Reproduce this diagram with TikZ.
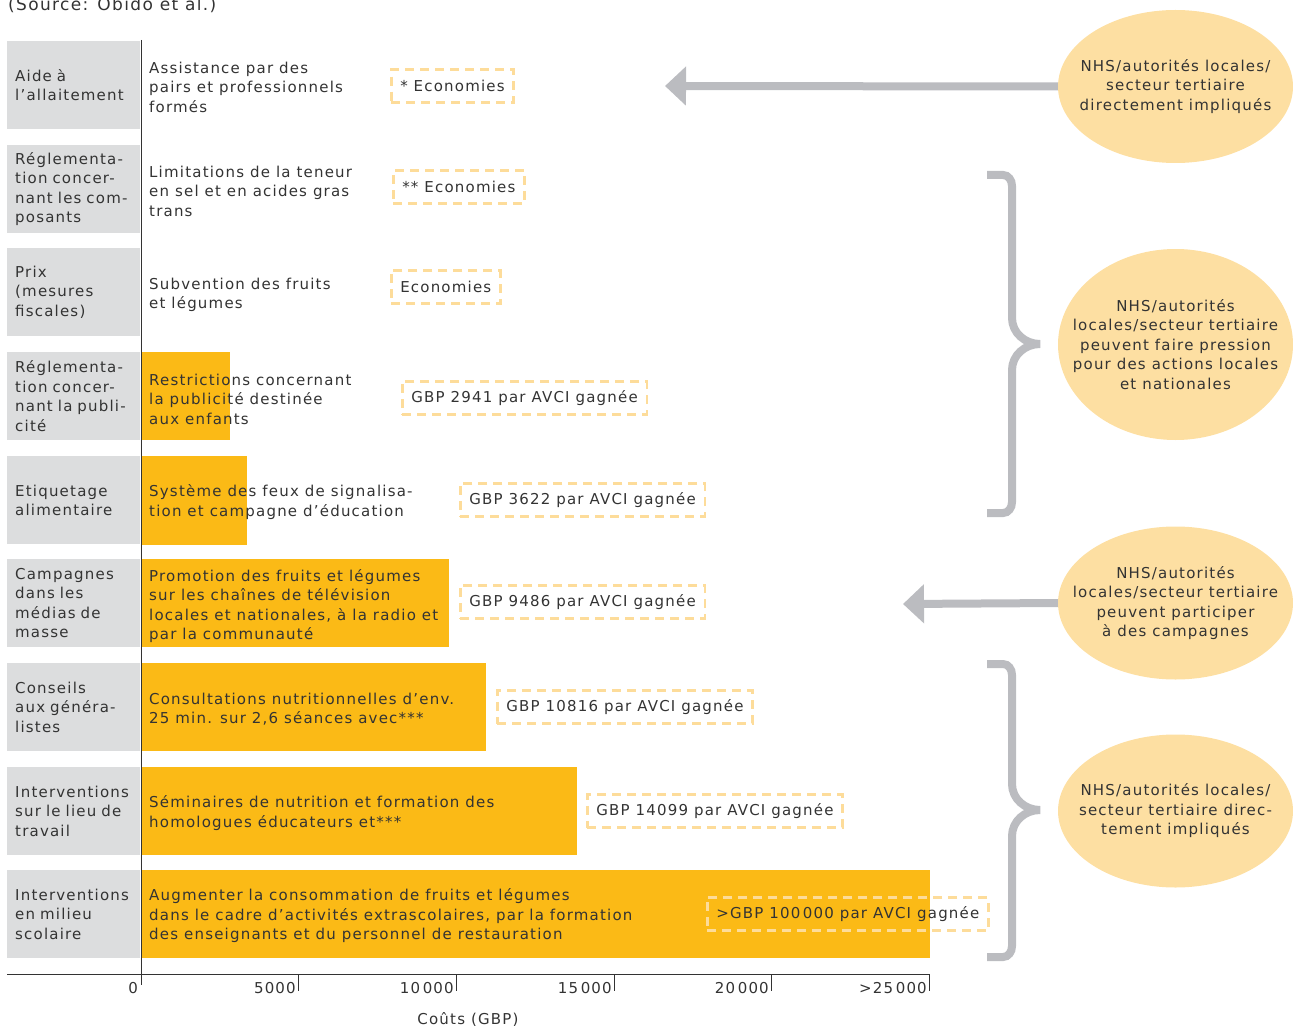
\documentclass[tikz,border=0pt]{standalone}
\usepackage{fontspec}
\setmainfont{DejaVu Sans}[LetterSpace=8]
\usetikzlibrary{arrows.meta,shapes.geometric}
\definecolor{boxgray}{HTML}{DCDDDE}
\definecolor{barorange}{HTML}{FBBA16}
\definecolor{dashorange}{HTML}{FDDC9A}
\definecolor{ellorange}{HTML}{FDDFA2}
\definecolor{arrowgray}{HTML}{BBBCC0}
\definecolor{txt}{HTML}{333333}
\tikzset{
    base/.style={font=\fontsize{15}{19.5}\selectfont, text=txt, inner sep=0pt},
    catbox/.style={base, fill=boxgray, anchor=north west, minimum width=133pt, minimum height=88pt, text width=117pt, inner xsep=8pt, align=left},
    desc/.style={base, anchor=west, align=left},
    saving/.style={base, draw=dashorange, line width=2.5pt, dash pattern=on 9pt off 6pt, anchor=west, inner xsep=9pt, minimum height=33pt},
    actor/.style={ellipse, fill=ellorange, minimum width=235pt, minimum height=153pt, inner sep=0pt},
    actortext/.style={base, align=center},
    bigarrow/.style={draw=arrowgray, line width=8pt, -{Triangle[width=38pt,length=21pt]}, arrowgray},
    brace/.style={draw=arrowgray, line width=8pt},
    axis/.style={draw=txt, line width=1pt}
}
\begin{document}
\begin{tikzpicture}[x=1pt,y=-1pt]
    \useasboundingbox (0,0) rectangle (1293,1027);
    \node[base, font=\fontsize{17}{20}\selectfont, anchor=base west] (source) at (8,11) {(Source: Obido et al.)};

    % categories
    \node[catbox] (c1) at (7,41) {Aide à\\l’allaitement};
    \node[catbox] (c2) at (7,145) {Réglementa-\\tion concer-\\nant les com-\\posants};
    \node[catbox] (c3) at (7,248) {Prix\\(mesures\\fiscales)};
    \node[catbox] (c4) at (7,352) {Réglementa-\\tion concer-\\nant la publi-\\cité};
    \node[catbox] (c5) at (7,456) {Etiquetage\\alimentaire};
    \node[catbox] (c6) at (7,559) {Campagnes\\dans les\\médias de\\masse};
    \node[catbox] (c7) at (7,663) {Conseils\\aux généra-\\listes};
    \node[catbox] (c8) at (7,767) {Interventions\\sur le lieu de\\travail};
    \node[catbox] (c9) at (7,870) {Interventions\\en milieu\\scolaire};

    % cost bars
    \fill[barorange] (141,352) rectangle (230,440);
    \fill[barorange] (141,456) rectangle (247,545);
    \fill[barorange] (141,559) rectangle (449,647);
    \fill[barorange] (141,663) rectangle (486,751);
    \fill[barorange] (141,767) rectangle (577,855);
    \fill[barorange] (141,870) rectangle (930,958);

    % interventions
    \node[desc] (d1) at (149,87) {Assistance par des\\pairs et professionnels\\formés};
    \node[desc] (d2) at (149,191) {Limitations de la teneur\\en sel et en acides gras\\trans};
    \node[desc] (d3) at (149,295) {Subvention des fruits\\et légumes};
    \node[desc] (d4) at (149,399) {Restrictions concernant\\la publicité destinée\\aux enfants};
    \node[desc] (d5) at (149,502) {Système des feux de signalisa-\\tion et campagne d’éducation};
    \node[desc] (d6) at (149,606) {Promotion des fruits et légumes\\sur les chaînes de télévision\\locales et nationales, à la radio et\\par la communauté};
    \node[desc] (d7) at (149,709) {Consultations nutritionnelles d’env.\\25 min. sur 2,6 séances avec***};
    \node[desc] (d8) at (149,813) {Séminaires de nutrition et formation des\\homologues éducateurs et***};
    \node[desc] (d9) at (149,916) {Augmenter la consommation de fruits et légumes\\dans le cadre d’activités extrascolaires, par la formation\\des enseignants et du personnel de restauration};

    % savings
    \node[saving] (s1) at (390,86) {* Economies};
    \node[saving] (s2) at (392,187) {** Economies};
    \node[saving] (s3) at (390,287) {Economies};
    \node[saving] (s4) at (401,398) {GBP 2941 par AVCI gagnée};
    \node[saving] (s5) at (459,500) {GBP 3622 par AVCI gagnée};
    \node[saving] (s6) at (459,602) {GBP 9486 par AVCI gagnée};
    \node[saving] (s7) at (496,707) {GBP 10816 par AVCI gagnée};
    \node[saving] (s8) at (586,811) {GBP 14099 par AVCI gagnée};
    \node[saving] (s9) at (706,914) {>GBP 100\,000 par AVCI gagnée};

    % axes
    \draw[axis] (7,974) -- (930,974);
    \draw[axis] (141,40) -- (141,985);
    \node[base, anchor=east] (t0) at (138,988) {0};
    \foreach \x/\lab in {298/5000, 456/{10\,000}, 614/{15\,000}, 771/{20\,000}, 929/{>25\,000}}
    {
        \draw[axis] (\x,974) -- (\x,991);
        \node[base, anchor=east] at (\x-2,988) {\lab};
    }
    \node[base] (xlabel) at (468,1019) {Coûts (GBP)};

    % actors
    \node[actor] (e1) at (1175.5,86.5) {};
    \node[actor, minimum height=191pt] (e2) at (1175.5,344.5) {};
    \node[actor] (e3) at (1175.5,603) {};
    \node[actor] (e4) at (1175.5,811) {};
    \node[actortext] (e1t) at (e1) {NHS/autorités locales/\\secteur tertiaire\\directement impliqués};
    \node[actortext] (e2t) at (e2) {NHS/autorités\\locales/secteur tertiaire\\peuvent faire pression\\pour des actions locales\\et nationales};
    \node[actortext] (e3t) at (e3) {NHS/autorités\\locales/secteur tertiaire\\peuvent participer\\à des campagnes};
    \node[actortext] (e4t) at (e4) {NHS/autorités locales/\\secteur tertiaire direc-\\tement impliqués};

    \coordinate (a1) at (665,86);
    \coordinate (a2) at (903,604);
    \draw[bigarrow] (e1.west) -- (a1);
    \draw[bigarrow] (e3.west) -- (a2);

    \draw[brace] (987,175) -- (1003,175) to[out=0,in=90] (1012,186) -- (1012,318)
        to[out=-90,in=180] (1040,344) to[out=180,in=90] (1012,370) -- (1012,502)
        to[out=-90,in=0] (1003,513) -- (987,513);
    \draw[brace] (987,664) -- (1003,664) to[out=0,in=90] (1012,675) -- (1012,784)
        to[out=-90,in=180] (1040,810) to[out=180,in=90] (1012,836) -- (1012,946)
        to[out=-90,in=0] (1003,957) -- (987,957);
\end{tikzpicture}
\end{document}
